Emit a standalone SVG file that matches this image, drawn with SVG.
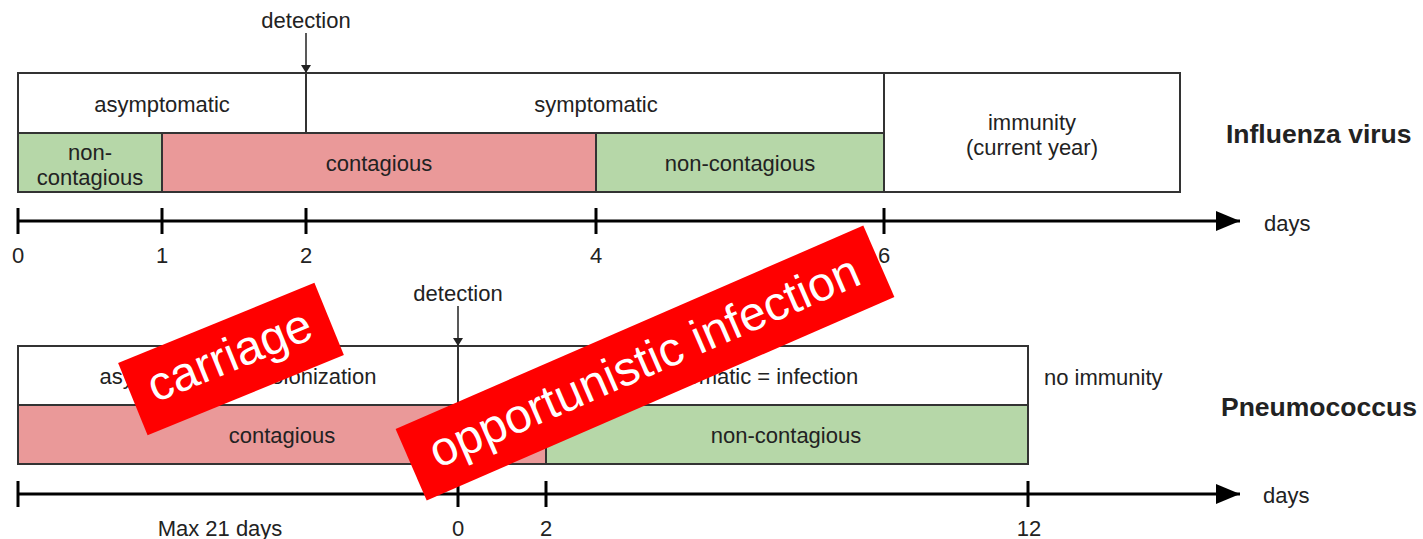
<svg xmlns="http://www.w3.org/2000/svg" width="1423" height="539" viewBox="0 0 1423 539">
<defs>
<style>
text{font-family:"Liberation Sans",Arial,sans-serif;fill:#222;}
.lbl{font-size:22px;text-anchor:middle;}
.lft{font-size:22px;}
.ttl{font-size:26.5px;font-weight:bold;}
.box{fill:#fff;stroke:#333;stroke-width:2;}
.pink{fill:#EA9999;stroke:#333;stroke-width:2;}
.green{fill:#B6D7A8;stroke:#333;stroke-width:2;}
.div{stroke:#333;stroke-width:2;fill:none;}
.axis{stroke:#000;stroke-width:3;fill:none;}
.tick{stroke:#000;stroke-width:3;}
.det{stroke:#222;stroke-width:1.5;fill:none;}
.banner{fill:#FF0000;}
.btxt{font-size:48px;fill:#fff;text-anchor:middle;}
</style>
<marker id="axhead" viewBox="0 0 24 20" refX="24" refY="10" markerWidth="24" markerHeight="20" markerUnits="userSpaceOnUse" orient="auto">
<path d="M0,0 L24,10 L0,20 Z" fill="#000"/>
</marker>
<marker id="dethead" viewBox="0 0 8 10" refX="8" refY="5" markerWidth="8" markerHeight="10" markerUnits="userSpaceOnUse" orient="auto">
<path d="M0,0 L8,5 L0,10 Z" fill="#222"/>
</marker>
</defs>
<rect width="1423" height="539" fill="#fff"/>

<!-- Influenza timeline -->
<g id="flu-frame">
<rect class="box" x="18" y="73" width="1162" height="119"/>
</g>
<g id="flu-noncontagious1">
<rect class="green" x="18" y="133" width="144" height="59"/>
<text class="lbl" x="90" y="160">non-</text>
<text class="lbl" x="90" y="185">contagious</text>
</g>
<g id="flu-contagious">
<rect class="pink" x="162" y="133" width="434" height="59"/>
<text class="lbl" x="379" y="171">contagious</text>
</g>
<g id="flu-noncontagious2">
<rect class="green" x="596" y="133" width="288" height="59"/>
<text class="lbl" x="740" y="171">non-contagious</text>
</g>
<g id="flu-asymptomatic">
<line class="div" x1="18" y1="133" x2="596" y2="133"/>
<line class="div" x1="306" y1="73" x2="306" y2="133"/>
<text class="lbl" x="162" y="112">asymptomatic</text>
</g>
<g id="flu-symptomatic">
<line class="div" x1="884" y1="73" x2="884" y2="192"/>
<text class="lbl" x="596" y="112">symptomatic</text>
</g>
<g id="flu-immunity">
<text class="lbl" x="1032" y="130">immunity</text>
<text class="lbl" x="1032" y="155">(current year)</text>
</g>
<g id="flu-title">
<text class="ttl" x="1226" y="143">Influenza virus</text>
</g>

<!-- Pneumococcus timeline -->
<g id="pneu-frame">
<rect class="box" x="18" y="346" width="1010" height="118"/>
</g>
<g id="pneu-contagious">
<rect class="pink" x="18" y="405" width="528" height="59"/>
<text class="lbl" x="282" y="443">contagious</text>
</g>
<g id="pneu-noncontagious">
<rect class="green" x="546" y="405" width="482" height="59"/>
<text class="lbl" x="786" y="443">non-contagious</text>
</g>
<g id="pneu-colonization">
<line class="div" x1="458" y1="346" x2="458" y2="405"/>
<text class="lbl" x="238" y="384">asymptomatic = colonization</text>
</g>
<g id="pneu-infection">
<text class="lbl" x="743" y="384">symptomatic = infection</text>
</g>
<g id="pneu-immunity">
<text class="lft" x="1044" y="385">no immunity</text>
</g>
<g id="pneu-title">
<text class="ttl" x="1221" y="416">Pneumococcus</text>
</g>

<!-- Connectors: axes and detection arrows -->
<g id="connectors">
<line class="axis" x1="18" y1="221" x2="1240" y2="221" marker-end="url(#axhead)"/>
<line class="tick" x1="18" y1="208" x2="18" y2="234"/>
<line class="tick" x1="162" y1="208" x2="162" y2="234"/>
<line class="tick" x1="306" y1="208" x2="306" y2="234"/>
<line class="tick" x1="596" y1="208" x2="596" y2="234"/>
<line class="tick" x1="884" y1="208" x2="884" y2="234"/>
<line class="det" x1="306" y1="33" x2="306" y2="73" marker-end="url(#dethead)"/>

<line class="axis" x1="18" y1="494" x2="1240" y2="494" marker-end="url(#axhead)"/>
<line class="tick" x1="18" y1="481" x2="18" y2="507"/>
<line class="tick" x1="458" y1="481" x2="458" y2="507"/>
<line class="tick" x1="546" y1="481" x2="546" y2="507"/>
<line class="tick" x1="1028" y1="481" x2="1028" y2="507"/>
<line class="det" x1="458" y1="306" x2="458" y2="346" marker-end="url(#dethead)"/>
</g>

<g id="axis-labels">
<text class="lbl" x="306" y="28">detection</text>
<text class="lft" x="1264" y="231">days</text>
<text class="lbl" x="18" y="263">0</text>
<text class="lbl" x="162" y="263">1</text>
<text class="lbl" x="306" y="263">2</text>
<text class="lbl" x="596" y="263">4</text>
<text class="lbl" x="884" y="263">6</text>

<text class="lbl" x="458" y="301">detection</text>
<text class="lft" x="1263" y="503">days</text>
<text class="lbl" x="220" y="536">Max 21 days</text>
<text class="lbl" x="458" y="536">0</text>
<text class="lbl" x="546" y="536">2</text>
<text class="lbl" x="1029" y="536">12</text>
</g>

<!-- Overlay banners -->
<g id="banner-carriage" transform="translate(231 359) rotate(-22.2)">
<rect class="banner" x="-106" y="-39" width="212" height="78"/>
<text class="btxt" x="0" y="12">carriage</text>
</g>
<g id="banner-opportunistic" transform="translate(645 363) rotate(-23.5)">
<rect class="banner" x="-255" y="-39" width="510" height="78"/>
<text class="btxt" x="0" y="14">opportunistic infection</text>
</g>
</svg>
